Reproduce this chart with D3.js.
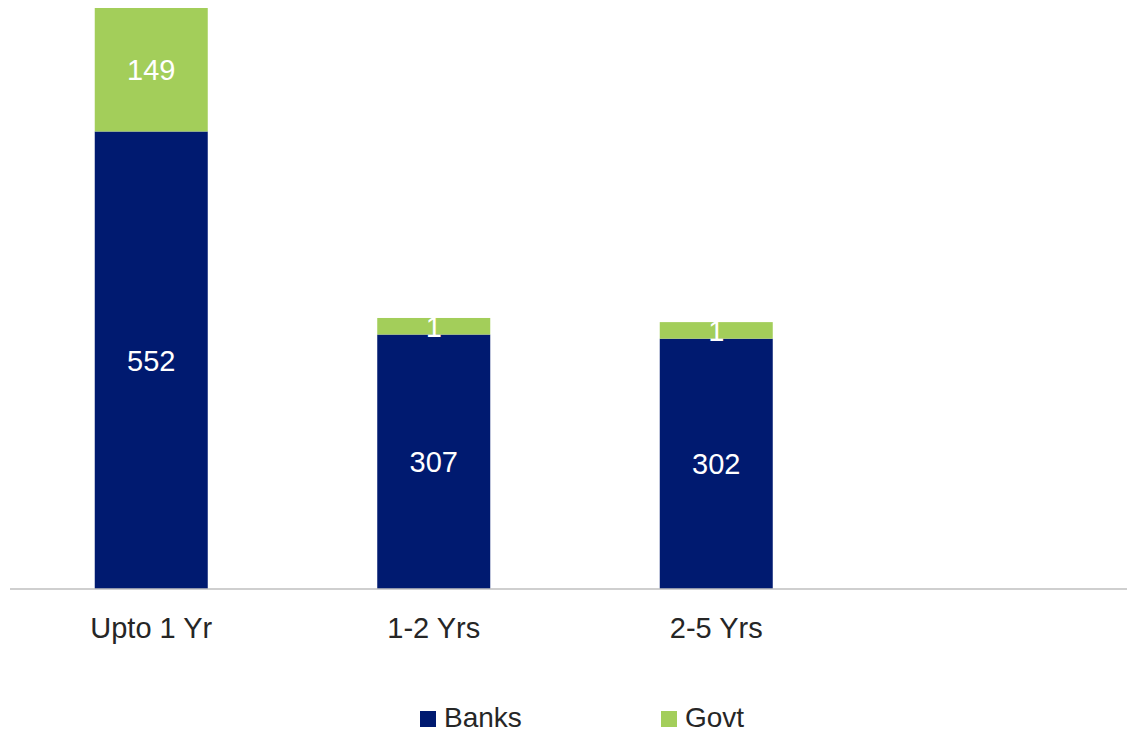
<!DOCTYPE html>
<html>
<head>
<meta charset="utf-8">
<script src="https://cdn.jsdelivr.net/npm/d3@7"></script>
<style>
  body { margin: 0; background: #fff; }
  svg { display: block; font-family: "Liberation Sans", Arial, sans-serif; }
</style>
</head>
<body>
<svg id="chart" width="1127" height="732"></svg>
<script>
// data
const categories = ["Upto 1 Yr", "1-2 Yrs", "2-5 Yrs", ""];
const banks = [552, 307, 302];
const govt = [149, 20, 20];          // bar heights as drawn
const govtLabels = ["149", "1", "1"]; // labels as printed
const seriesNames = ["Banks", "Govt"];
const colors = ["#001a70", "#a3ce5a"];

const svg = d3.select("#chart");

const x = d3.scaleBand()
    .domain(categories)
    .range([10, 1140])
    .paddingInner(0.6)
    .paddingOuter(0.3);

const totals = banks.map((b, i) => b + govt[i]);
const y = d3.scaleLinear()
    .domain([0, d3.max(totals)])
    .range([589, 8]);

const rows = banks.map((b, i) => ({ cat: categories[i], Banks: b, Govt: govt[i], label: govtLabels[i] }));
const stacked = d3.stack().keys(seriesNames)(rows);

// bars
const layers = svg.selectAll("g.layer")
    .data(stacked)
    .join("g")
    .attr("class", "layer")
    .attr("fill", (d, i) => colors[i]);

layers.selectAll("rect")
    .data(d => d)
    .join("rect")
    .attr("x", d => x(d.data.cat))
    .attr("y", d => y(d[1]))
    .attr("width", x.bandwidth())
    .attr("height", d => y(d[0]) - y(d[1]));

// data labels
layers.each(function (layer) {
    d3.select(this).selectAll("text")
        .data(layer)
        .join("text")
        .attr("x", d => x(d.data.cat) + x.bandwidth() / 2)
        .attr("y", d => (y(d[0]) + y(d[1])) / 2)
        .attr("dy", "0.36em")
        .attr("text-anchor", "middle")
        .attr("fill", "#fff")
        .attr("font-size", "29px")
        .text(d => layer.key === "Govt" ? d.data.label : d.data.Banks);
});

// x axis
const axis = svg.append("g")
    .attr("transform", "translate(0,589)")
    .call(d3.axisBottom(x).tickSize(0).tickPadding(28));

axis.select(".domain")
    .attr("stroke", "#bfbfbf")
    .attr("stroke-width", 1.5)
    .attr("d", "M10,0H1127");

axis.selectAll(".tick text")
    .attr("font-family", "Liberation Sans, Arial, sans-serif")
    .attr("font-size", "29px")
    .attr("fill", "#262626");

// legend
const legendX = [420, 661];
const legend = svg.append("g");
seriesNames.forEach((name, i) => {
    legend.append("rect")
        .attr("x", legendX[i])
        .attr("y", 711)
        .attr("width", 16)
        .attr("height", 16)
        .attr("fill", colors[i]);
    legend.append("text")
        .attr("x", legendX[i] + 24)
        .attr("y", 727)
        .attr("font-size", "28px")
        .attr("fill", "#262626")
        .text(name);
});
</script>
</body>
</html>
